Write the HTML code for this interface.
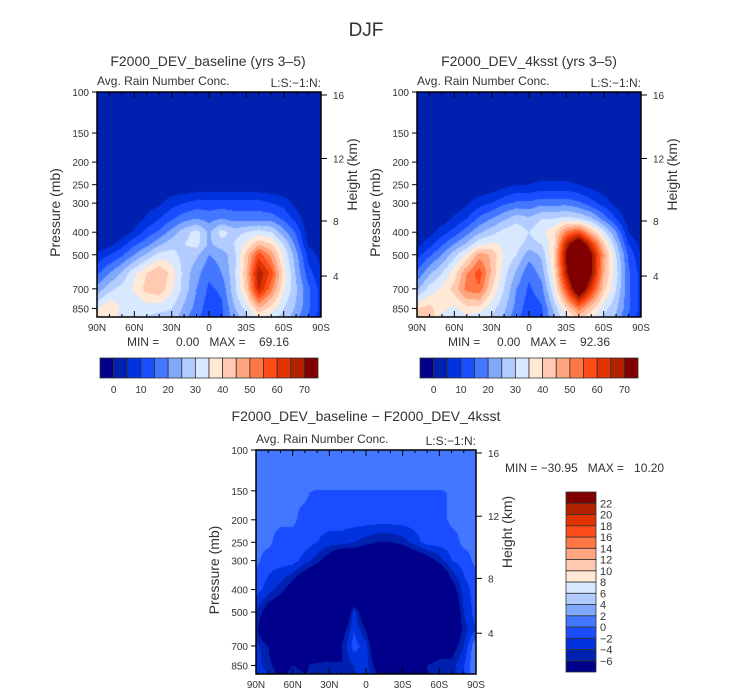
<!DOCTYPE html>
<html><head><meta charset="utf-8">
<style>
html,body{margin:0;padding:0;background:#fff;}
#wrap{position:relative;width:733px;height:699px;overflow:hidden;font-family:"Liberation Sans",sans-serif;}
canvas{position:absolute;}
svg{position:absolute;left:0;top:0;}
text{fill:#333;font-family:"Liberation Sans",sans-serif;white-space:pre;}
</style></head>
<body>
<div id="wrap">
<canvas id="c1" width="224" height="225" style="left:97px;top:92px"></canvas>
<canvas id="c2" width="224" height="225" style="left:417px;top:92px"></canvas>
<canvas id="c3" width="220" height="224" style="left:256px;top:450px"></canvas>
<svg id="s" width="733" height="699"></svg>
</div>
<script>
// ---- data ----
const lats = [90,80,70,60,50,40,30,20,10,0,-10,-20,-30,-40,-50,-60,-70,-80,-90];
const levels = [100,150,200,250,300,350,400,450,500,600,700,850,925];
const baseline = [
[0,0,0,0,0,0,0,0,0,0,0,0,0,0,0,0,0,0,0],
[0,0,0,0,0,0,0,0,0,0,0,0,0,0,0,0,0,0,0],
[0,0,0,0,0,0,0,0,0,0,0,0,0,0,0,0,0,0,0],
[0,0,0,0,0,0,0,0,0,0,0,0,0,0,0,0,0,0,0],
[0,0,0,0,2,4,8,10,12,12,12,12,12,12,10,8,3,0,0],
[0,0,0,2,6,10,14,18,20,18,20,18,18,18,18,14,8,1,0],
[0,0,2,6,12,16,22,28,32,24,32,28,30,32,30,22,14,2,0],
[1,3,8,14,18,24,28,30,32,24,28,30,36,44,40,30,18,4,1],
[6,10,14,20,26,32,32,28,26,20,22,28,42,58,48,34,22,8,3],
[14,20,26,34,40,45,38,28,22,16,20,28,44,69,58,38,24,12,6],
[22,28,32,36,42,44,36,28,20,14,16,28,42,66,52,36,26,16,8],
[34,40,34,30,32,32,30,24,18,12,14,24,32,44,38,30,24,16,8],
[36,40,32,30,30,28,28,22,16,12,14,22,28,36,32,28,22,14,8]];
const ksst = [
[0,0,0,0,0,0,0,0,0,0,0,0,0,0,0,0,0,0,0],
[0,0,0,0,0,0,0,0,0,0,0,0,0,0,0,0,0,0,0],
[0,0,0,0,0,0,0,0,0,0,0,0,0,0,0,0,0,0,0],
[0,0,0,0,0,0,1,3,5,5,6,6,6,5,3,1,0,0,0],
[0,0,0,1,4,8,10,14,16,16,18,18,18,16,12,8,3,0,0],
[0,0,2,6,10,16,20,24,28,26,30,30,32,30,26,18,10,2,0],
[0,3,8,12,18,24,28,32,34,30,34,38,52,58,44,32,20,5,0],
[3,8,14,20,26,34,36,34,32,28,30,38,66,82,62,42,26,10,3],
[8,14,20,28,36,48,44,34,30,22,26,40,72,90,72,48,30,14,5],
[16,24,30,38,50,58,44,32,24,16,22,38,68,92,72,46,32,16,8],
[24,32,36,42,52,54,40,30,20,14,18,34,58,82,62,42,30,16,8],
[40,42,36,34,38,38,32,26,18,12,14,26,40,52,42,32,26,16,8],
[40,44,34,32,34,32,30,24,16,12,14,24,34,42,36,30,24,14,8]];
const diffLevels = [100,145,155,200,250,300,400,500,600,700,850,925];
const diff = [
[0.5,0.5,0.5,0.5,0.5,0.5,0.5,0.5,0.5,0.5,0.5,0.5,0.5,0.5,0.5,0.5,0.5,0.5,0.5],
[0.5,0.5,0.5,0.5,0.5,0.5,0.5,0.5,0.5,0.5,0.5,0.5,0.5,0.5,0.5,0.5,0.5,0.5,0.5],
[0.5,0.5,0.5,0.5,0.5,-1,-1,-1,-1,-1,-1,-1,-1,-1,-1,-1,0.5,0.5,0.5],
[0.5,0.5,0.5,0.5,-1,-1,-1,-1,-1,-1,-1,-1,-1,-1,-1,-1,0.5,0.5,0.5],
[0.5,0.5,-1,-1,-1,-2,-3,-3,-4,-5,-6,-6,-5,-3,-1,-1,-1,0.5,0.5],
[0.5,-1,-1,-1,-3,-5,-8,-12,-10,-12,-15,-14,-12,-10,-8,-5,-2,-1,0.5],
[-1,-3,-5,-8,-12,-15,-20,-22,-15,-20,-25,-25,-25,-25,-22,-15,-8,-3,-1],
[-4,-8,-10,-15,-18,-20,-20,-15,-3,-10,-20,-25,-28,-30,-28,-20,-12,-4,-1],
[-5,-12,-14,-18,-20,-22,-18,-8,-2,-6,-15,-22,-28,-30,-28,-18,-12,-5,-2],
[-3,-6,-12,-14,-16,-18,-10,-6,-1,-3,-12,-20,-20,-25,-10,-8,-8,-4,2],
[-3,-5,-8,-6,-7,-4,-5,-6,-4,-3,-8,-10,-8,-10,-6,-5,-5,-2,2],
[-2,-4,-7,-5,-6,-5,-5,-6,-4,-3,-6,-8,-8,-8,-6,-5,-5,-2,2]];
const palette = ['#00008a','#0021b0','#0033dd','#1a4dff','#4477ff','#80a8ff','#b3ccff','#d8e8ff','#ffe8d6','#ffcab0','#ffa67f','#ff7744','#ff4d1a','#e03300','#b32200','#800000'];
const cbLabels1 = [0,10,20,30,40,50,60,70];
const cbLabels3 = [22,20,18,16,14,12,10,8,6,4,2,0,-2,-4,-6];
const latTicks = ['90N','60N','30N','0','30S','60S','90S'];
const pTicks = [100,150,200,250,300,400,500,700,850];
const hTicks = [16,12,8,4];
const hTickPressure = [103,193,358,617];

// ---- axis functions ----
const PBOT = 925;
function yP(p,h){return h*Math.log(p/100)/Math.log(PBOT/100);}
function xLat(l,w){return w*(90-l)/180;}
function interp(field,lv,lat,p){
  let li=Math.min(lats.length-2,Math.max(0,Math.floor((90-lat)/10)));
  let tx=((90-lat)-li*10)/10;
  let lp=Math.log(p), ri=0;
  while(ri<lv.length-2 && p>lv[ri+1]) ri++;
  let ty=(lp-Math.log(lv[ri]))/(Math.log(lv[ri+1])-Math.log(lv[ri]));
  ty=Math.max(0,Math.min(1,ty));
  const a=field[ri][li],b=field[ri][li+1],c=field[ri+1][li],d=field[ri+1][li+1];
  return (a*(1-tx)+b*tx)*(1-ty)+(c*(1-tx)+d*tx)*ty;
}
function idxAbs(v){return v<0?0:Math.min(15,Math.floor(v/5)+1);}
function idxDiff(v){return Math.min(15,Math.max(0,Math.floor((v+6)/2)+1));}
function draw(id,field,lv,idx){
  const cv=document.getElementById(id),ctx=cv.getContext('2d'),W=cv.width,H=cv.height;
  for(let y=0;y<H;y++){
    const p=100*Math.pow(PBOT/100,(y+0.5)/H);
    for(let x=0;x<W;x++){
      const lat=90-180*(x+0.5)/W;
      ctx.fillStyle=palette[idx(interp(field,lv,lat,p))];
      ctx.fillRect(x,y,1,1);
    }
  }
}
draw('c1',baseline,levels,idxAbs);
draw('c2',ksst,levels,idxAbs);
draw('c3',diff,diffLevels,idxDiff);

// ---- svg overlay ----
const NS='http://www.w3.org/2000/svg', S=document.getElementById('s');
function el(tag,attrs,txt){const e=document.createElementNS(NS,tag);for(const k in attrs)e.setAttribute(k,attrs[k]);if(txt!==undefined)e.textContent=txt;S.appendChild(e);return e;}
let t=el('text',{x:366,y:36,'font-size':19,'text-anchor':'middle',fill:'#555'},'DJF');



function panel(x0,y0,w,h,title,titleX,titleY,name){
  let e;
  e=el('text',{x:titleX,y:titleY,'font-size':14,'text-anchor':'middle',fill:'#444'},title);
  
  
  e=el('text',{x:x0,y:y0-7,'font-size':12,fill:'#333'},'Avg. Rain Number Conc.');
  
  
  e=el('text',{x:x0+w,y:y0-5,'font-size':12,'text-anchor':'end',fill:'#333'},'L:S:\u22121:N:');
  
  
  e=el('rect',{x:x0,y:y0,width:w,height:h,fill:'none',stroke:'#000','stroke-width':1.5});
  
  
  for(let l=90;l>=-90;l-=10){
    const x=x0+xLat(l,w), major=(l%30===0);
    el('line',{x1:x,y1:y0,x2:x,y2:y0+(major?6:3),stroke:'#000'});
    el('line',{x1:x,y1:y0+h,x2:x,y2:y0+h-(major?6:3),stroke:'#000'});
  }
  latTicks.forEach((lb,i)=>{
    e=el('text',{x:x0+w*i/6,y:y0+h+14,'font-size':10,'text-anchor':'middle',fill:'#222'},lb);
    
    
  });
  pTicks.forEach(p=>{
    const y=y0+yP(p,h);
    el('line',{x1:x0-5,y1:y,x2:x0,y2:y,stroke:'#000'});
    e=el('text',{x:x0-8,y:y+4,'font-size':10,'text-anchor':'end',fill:'#222'},String(p));
    
    
  });
  hTicks.forEach((k,i)=>{
    const y=y0+yP(hTickPressure[i],h);
    el('line',{x1:x0+w,y1:y,x2:x0+w+6,y2:y,stroke:'#000'});
    e=el('text',{x:x0+w+12,y:y+4,'font-size':10,fill:'#222'},String(k));
    
    
  });
  e=el('text',{x:0,y:0,'font-size':14,'text-anchor':'middle',fill:'#444',transform:`translate(${x0-37},${y0+h/2+8}) rotate(-90)`},'Pressure (mb)');
  
  
  e=el('text',{x:0,y:0,'font-size':14,'text-anchor':'middle',fill:'#444',transform:`translate(${x0+w+36},${y0+h/2-30}) rotate(-90)`},'Height (km)');
  
  
}
panel(97,92,224,225,'F2000_DEV_baseline (yrs 3\u20135)',208,66,'baseline');
panel(417,92,224,225,'F2000_DEV_4ksst (yrs 3\u20135)',529,66,'ksst');
panel(256,450,220,224,'F2000_DEV_baseline \u2212 F2000_DEV_4ksst',366,421,'difference');

function minmax(x,y,txt,name,anchor){
  const e=el('text',{x:x,y:y,'font-size':12,'text-anchor':anchor,fill:'#333'},txt);
  
  
}
minmax(208,346,'MIN =     0.00   MAX =    69.16','baseline-min-max','middle');
minmax(529,346,'MIN =     0.00   MAX =    92.36','ksst-min-max','middle');
minmax(505,472,'MIN = \u221230.95   MAX =   10.20','difference-min-max','start');

function hbar(x0,y0,w,h,name){
  const bw=w/palette.length;
  palette.forEach((c,i)=>{
    const r=el('rect',{x:x0+i*bw,y:y0,width:bw,height:h,fill:c,stroke:'#333','stroke-width':0.8});
    
    
  });
  cbLabels1.forEach((v,i)=>{
    const e=el('text',{x:x0+bw*(1+2*i),y:y0+h+15,'font-size':10,'text-anchor':'middle',fill:'#222'},String(v));
    
    
  });
}
hbar(100,358,218,20,'baseline-colorbar');
hbar(420,358,218,20,'ksst-colorbar');
(function(){
  const x0=566,y0=492,w=30,h=180,bh=h/palette.length;
  palette.forEach((c,i)=>{
    const r=el('rect',{x:x0,y:y0+h-(i+1)*bh,width:w,height:bh,fill:c,stroke:'#333','stroke-width':0.8});
    
    
  });
  cbLabels3.forEach((v,i)=>{
    const e=el('text',{x:x0+w+4,y:y0+bh*(i+1)+4,'font-size':11,fill:'#222'},String(v).replace('-','\u2212'));
    
    
  });
})();
</script>
</body></html>
